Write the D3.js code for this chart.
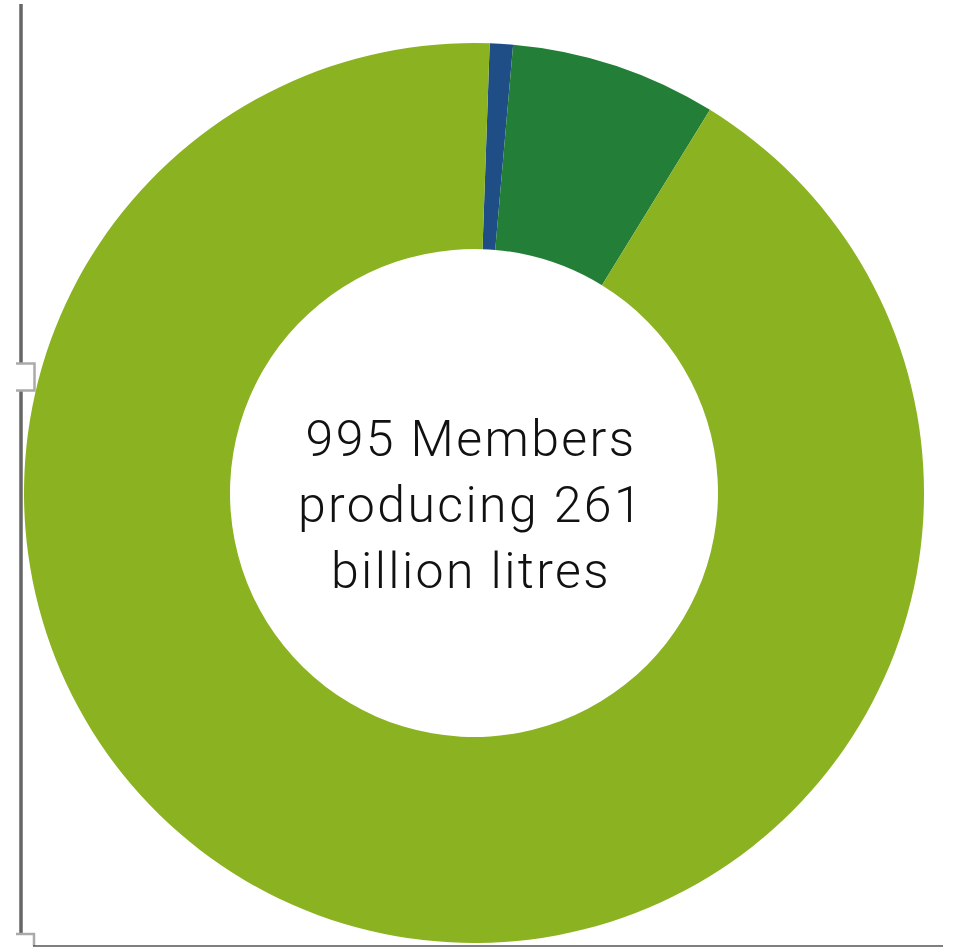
<!DOCTYPE html>
<html>
<head>
<meta charset="utf-8">
<script src="https://cdn.jsdelivr.net/npm/d3@7"></script>
<style>
  body { margin: 0; background: #fff; }
  .centre-label { font-family: Roboto, "Noto Sans", sans-serif; font-weight: 300; fill: #111; letter-spacing: 2.4px; }
</style>
</head>
<body>
<div id="chart"></div>
<script>
// share of members (percent)
const segments = ['Segment A', 'Segment B', 'Segment C']
const shares = [0.83, 7.4, 91.77]
const colours = ['#1e4e85', '#237f37', '#8bb220']
const centreText = ['995 Members', 'producing 261', 'billion litres']

const width = 953, height = 947
const cx = 474, cy = 493
const outerR = 450, innerR = 244
const startDeg = 2.0   // ring starts a little right of twelve o'clock

const svg = d3.select('#chart').append('svg')
    .attr('width', width)
    .attr('height', height)

const data = segments.map((s, i) => ({ name: s, value: shares[i], colour: colours[i] }))

const pie = d3.pie()
    .sort(null)
    .value(d => d.value)
    .startAngle(startDeg * Math.PI / 180)
    .endAngle((360 + startDeg) * Math.PI / 180)

const arc = d3.arc()
    .innerRadius(innerR)
    .outerRadius(outerR)

const ring = svg.append('g')
    .attr('transform', `translate(${cx},${cy})`)

ring.selectAll('path').data(pie(data))
    .enter()
    .append('path')
    .attr('d', arc)
    .attr('fill', d => d.data.colour)

// centre label
const label = ring.append('text')
    .attr('class', 'centre-label')
    .attr('text-anchor', 'middle')
    .attr('font-size', 50)

label.selectAll('tspan').data(centreText)
    .enter()
    .append('tspan')
    .attr('x', -3)
    .attr('y', (d, i) => -37 + i * 66)
    .text(d => d)

// left frame line with its little bracket, and the base line
const frame = svg.append('g').attr('fill', 'none')

frame.append('path')
    .attr('d', 'M21,4V364 M21,390V934')
    .attr('stroke', '#666')
    .attr('stroke-width', 3.5)

frame.append('path')
    .attr('d', 'M16,363.5H34.5V390.5H16 M16,934H34V946')
    .attr('stroke', '#aaa')
    .attr('stroke-width', 2.5)

frame.append('path')
    .attr('d', 'M33,946H943')
    .attr('stroke', '#555')
    .attr('stroke-width', 1.5)
</script>
</body>
</html>
